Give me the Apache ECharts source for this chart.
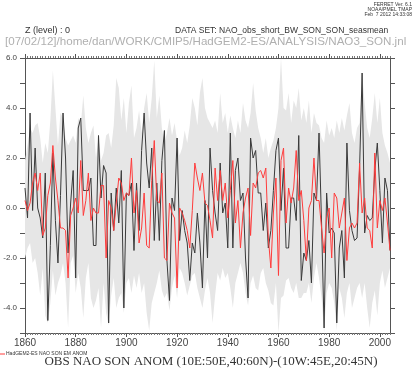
<!DOCTYPE html>
<html><head><meta charset="utf-8">
<script src="https://cdn.jsdelivr.net/npm/echarts@6/dist/echarts.min.js"></script>
<style>html,body{margin:0;padding:0;background:#fff}#c{width:414px;height:372px}</style>
</head><body><div id="c"></div>
<script>
const startYear = 1860;
// observed NAO (black)
const obs = [
 0.8,-0.4,3.8,-0.1,2.4,0.0,-0.4,-1.2,1.4,-4.5,
 -1.5,2.2,-0.5,-2.2,0.5,3.8,2.0,-1.8,0.2,1.5,
 -2.8,3.2,3.6,0.7,0.7,0.7,1.2,-1.5,-1.5,2.9,
 0.4,1.7,1.4,-4.6,0.6,-0.9,0.8,-0.6,1.5,-4.0,
 0.6,0.5,1.0,-1.7,1.0,-0.9,2.3,3.8,1.8,0.8,
 2.4,-1.3,1.0,-1.3,1.9,3.1,-2.1,-3.7,0.4,-0.1,
 2.8,-1.3,-0.1,-0.9,-1.4,-2.9,-1.4,-1.8,-0.2,-1.4,
 -3.2,0.3,-2.0,2.4,0.7,-0.2,-0.9,1.8,-0.2,0.2,
 -1.6,3.0,-1.6,1.5,2.0,0.3,0.6,-2.0,-3.6,2.8,
 2.0,2.3,0.6,0.6,-0.9,0.2,-1.6,-0.9,0.7,2.3,
 2.8,-0.1,1.6,-1.6,-1.6,0.4,0.4,-0.5,2.9,-2.9,
 -1.8,-2.1,-1.3,-3.0,0.6,0.3,3.0,-0.6,-4.8,0.6,
 -1.0,-0.8,-1.0,-4.6,-1.6,-0.9,-2.8,2.6,-0.1,-0.9,
 -1.3,-1.2,1.6,5.4,-1.0,-0.3,-0.5,-0.4,1.5,2.6,
 0.7,-1.4,1.2,0.7,-1.7
];
// HadGEM2-ES ensemble mean (red)
const model = [
 0.3,-0.1,0.2,1.0,1.4,0.7,1.4,-1.1,-0.8,0.5,
 1.0,2.5,1.2,0.3,-0.8,-0.8,-0.9,-2.8,-0.3,0.0,
 0.4,-0.2,1.9,-0.3,0.3,1.4,-0.5,0.0,-0.2,-0.2,
 0.9,0.9,-2.0,0.3,0.0,-0.9,0.2,1.2,1.0,0.3,
 0.6,0.5,2.0,-0.2,0.7,-1.4,-0.8,0.6,-1.5,-1.6,
 1.1,2.7,0.3,0.2,1.4,-2.0,-2.1,0.2,-0.2,-0.4,
 -3.2,0.0,-0.2,-0.5,-0.9,-1.6,-0.1,1.8,1.2,0.7,
 1.4,0.2,0.1,-0.5,-1.2,1.6,0.3,1.5,0.3,1.0,
 -0.4,0.7,1.9,-0.6,0.3,-1.6,-0.2,0.4,0.8,-1.1,
 1.0,0.8,1.4,1.5,1.2,1.6,-1.2,-2.4,-0.2,1.2,
 -2.7,1.9,2.4,-0.6,0.8,0.2,0.8,2.3,0.3,0.7,
 -0.5,-2.1,0.0,0.3,2.0,0.3,0.3,-0.8,-1.8,-0.4,
 0.0,-2.0,0.6,0.4,-0.8,-0.2,0.4,-2.1,-0.8,-0.6,
 -0.8,-0.6,1.8,-0.2,0.4,-0.8,-0.9,-1.6,2.2,-0.8,
 0.3,-0.1,0.4,-0.6,-1.7
];
// ensemble spread: upper and lower envelope (grey)
const ensHigh = [
 1.9,2.5,3.2,3.0,3.3,3.4,2.8,1.8,2.6,2.2,
 3.5,5.5,4.0,2.5,3.8,3.6,2.8,2.5,2.7,2.9,
 2.6,3.6,3.3,4.5,3.2,2.6,3.0,3.3,2.0,2.8,
 1.9,2.2,2.9,3.0,2.4,3.3,5.2,4.8,3.5,4.4,
 3.0,4.2,4.9,2.8,3.2,3.9,3.0,4.0,4.6,3.4,
 4.4,5.9,3.6,4.5,3.2,2.6,3.0,3.6,2.9,3.4,
 2.7,2.1,2.4,3.1,2.6,3.3,4.4,4.0,3.3,4.6,
 5.2,4.0,3.6,3.4,3.2,3.5,3.0,4.6,3.4,3.8,
 3.0,3.7,3.2,2.8,3.5,3.0,4.2,3.5,3.2,3.8,
 5.0,3.9,3.2,2.8,2.2,2.8,2.0,2.4,2.7,3.2,
 4.0,6.2,4.0,3.9,4.6,3.4,4.3,4.0,4.8,3.5,
 4.0,3.4,4.3,3.0,3.8,3.4,3.3,2.8,2.6,3.5,
 2.9,3.2,2.8,3.5,3.0,3.6,3.1,3.7,4.2,3.0,
 2.6,3.2,3.4,5.4,4.2,3.2,2.8,3.6,4.6,3.4,
 4.4,3.0,2.5,2.2,1.8
];
const ensLow = [
 -2.0,-1.6,-1.4,-2.2,-2.0,-2.6,-3.5,-2.4,-4.3,-4.6,
 -3.8,-2.5,-3.5,-3.0,-2.7,-2.2,-3.0,-4.8,-2.2,-1.9,
 -3.4,-2.6,-3.2,-4.4,-2.8,-2.2,-3.6,-4.0,-3.7,-3.2,
 -4.8,-3.0,-4.2,-4.7,-3.5,-2.8,-4.0,-3.6,-3.4,-4.2,
 -3.0,-2.8,-3.4,-2.7,-3.2,-2.6,-3.4,-3.0,-4.2,-4.9,
 -3.8,-3.4,-3.0,-2.5,-3.3,-3.6,-3.4,-4.1,-3.2,-2.7,
 -3.6,-2.4,-2.6,-3.0,-3.5,-3.1,-2.7,-2.6,-3.2,-3.6,
 -4.0,-3.3,-2.8,-3.4,-4.6,-3.5,-2.6,-2.9,-2.4,-2.8,
 -2.6,-3.2,-4.0,-3.0,-2.6,-2.2,-2.6,-3.4,-3.9,-3.0,
 -2.7,-3.2,-3.3,-2.6,-2.4,-3.0,-3.3,-3.8,-3.9,-3.0,
 -5.2,-3.6,-3.5,-2.9,-2.8,-3.2,-3.4,-3.0,-3.6,-3.6,
 -3.4,-3.4,-3.0,-3.8,-2.8,-2.2,-2.8,-3.6,-5.0,-3.4,
 -3.0,-3.2,-3.8,-4.9,-3.2,-3.6,-4.4,-3.4,-3.0,-4.0,
 -3.6,-3.2,-3.0,-3.6,-3.0,-4.0,-4.8,-3.8,-3.3,-4.3,
 -3.0,-2.5,-3.2,-2.8,-2.4
];
const xTickValues = [1860,1880,1900,1920,1940,1960,1980,2000];
const yTickValues = [-4,-2,0,2,4,6];

const Y_MIN = -5, Y_MAX = 6;
const years = obs.map((_, i) => startYear + i);
const pair = arr => arr.map((v, i) => [years[i], v]);
const bandData = years.map((y, i) => [y, ensLow[i], ensHigh[i]]);
const clampY = v => Math.max(Y_MIN, Math.min(Y_MAX, v));

const axisCol = '#555';
const labelFont = 'Liberation Sans';
const xCommon = {type:'value', min:1860, max:2004, splitLine:{show:false}};
const chart = echarts.init(document.getElementById('c'), null, {renderer:'canvas'});
chart.setOption({
  animation:false,
  backgroundColor:'#fff',
  grid:{left:25, top:58, width:365, height:275},
  xAxis:[
    Object.assign({}, xCommon, {position:'bottom', interval:1,
      axisLine:{show:true, onZero:false, lineStyle:{color:axisCol, width:1}},
      axisTick:{show:true, length:2, lineStyle:{color:'#777'}},
      axisLabel:{show:true, customValues:xTickValues, margin:5, fontSize:10, color:'#444', fontFamily:labelFont,
        formatter: v => String(v)}}),
    Object.assign({}, xCommon, {position:'bottom',
      axisLine:{show:false, onZero:false},
      axisTick:{show:true, customValues:xTickValues, length:4, lineStyle:{color:axisCol}},
      axisLabel:{show:false}}),
    Object.assign({}, xCommon, {position:'top', interval:1,
      axisLine:{show:true, onZero:false, lineStyle:{color:axisCol, width:1}},
      axisTick:{show:true, length:2, lineStyle:{color:'#777'}},
      axisLabel:{show:false}}),
    Object.assign({}, xCommon, {position:'top',
      axisLine:{show:false, onZero:false},
      axisTick:{show:true, customValues:xTickValues, length:4, lineStyle:{color:axisCol}},
      axisLabel:{show:false}})
  ],
  yAxis:[
    {type:'value', position:'left', min:Y_MIN, max:Y_MAX, interval:1, splitLine:{show:false},
      axisLine:{show:true, onZero:false, lineStyle:{color:axisCol}},
      axisTick:{show:true, length:5, lineStyle:{color:axisCol}},
      axisLabel:{show:true, customValues:yTickValues, margin:8, fontSize:8, color:'#444', fontFamily:labelFont,
        formatter: v => v.toFixed(1)}},
    {type:'value', position:'right', min:Y_MIN, max:Y_MAX, interval:1, splitLine:{show:false},
      axisLine:{show:true, onZero:false, lineStyle:{color:axisCol}},
      axisTick:{show:true, length:5, lineStyle:{color:axisCol}},
      axisLabel:{show:false}}
  ],
  series:[
    {type:'custom', data:bandData, silent:true, z:1,
      encode:{x:0, y:[1,2]},
      renderItem:(params, api) => {
        if (params.dataIndex !== 0) return null;
        const pts = [];
        for (let i = 0; i < years.length; i++) pts.push(api.coord([years[i], clampY(ensHigh[i])]));
        for (let i = years.length - 1; i >= 0; i--) pts.push(api.coord([years[i], clampY(ensLow[i])]));
        return {type:'polygon', shape:{points:pts}, style:{fill:'#e6e6e6', stroke:null}};
      }},
    {type:'line', data:pair(obs), symbol:'none', z:3, lineStyle:{color:'#3a3a3a', width:1}},
    {type:'line', data:pair(model), symbol:'none', z:4, lineStyle:{color:'#ff3c3c', width:1}}
  ],
  graphic:[
    {type:'text', x:412, y:5, style:{text:'FERRET Ver. 6.1', font:'5px "Liberation Sans"', fill:'#333', textAlign:'right', textVerticalAlign:'middle'}},
    {type:'text', x:412, y:10, style:{text:'NOAA/PMEL TMAP', font:'5px "Liberation Sans"', fill:'#333', textAlign:'right', textVerticalAlign:'middle'}},
    {type:'text', x:412, y:15, style:{text:'Feb  7 2012 14:33:08', font:'5px "Liberation Sans"', fill:'#333', textAlign:'right', textVerticalAlign:'middle'}},
    {type:'text', x:25, y:31, style:{text:'Z (level) : 0', font:'9px "Liberation Sans"', fill:'#333', textAlign:'left', textVerticalAlign:'middle'}},
    {type:'text', x:175, y:31, style:{text:'DATA SET: NAO_obs_short_BW_SON_SON_seasmean', font:'8.5px "Liberation Sans"', fill:'#333', textAlign:'left', textVerticalAlign:'middle'}},
    {type:'text', x:5, y:42, style:{text:'[07/02/12]/home/dan/WORK/CMIP5/HadGEM2-ES/ANALYSIS/NAO3_SON.jnl', font:'11.6px "Liberation Sans"', fill:'#b0b0b0', textAlign:'left', textVerticalAlign:'middle'}},
    {type:'line', shape:{x1:0, y1:354, x2:5, y2:354}, style:{stroke:'#ff3c3c', lineWidth:1}},
    {type:'text', x:6, y:354, style:{text:'HadGEM2-ES NAO SON EM ANOM', font:'5px "Liberation Sans"', fill:'#333', textAlign:'left', textVerticalAlign:'middle'}},
    {type:'text', x:211, y:362, style:{text:'OBS NAO SON ANOM (10E:50E,40:60N)-(10W:45E,20:45N)', font:'13px "Liberation Serif"', fill:'#333', textAlign:'center', textVerticalAlign:'middle'}}
  ]
});
</script></body></html>
